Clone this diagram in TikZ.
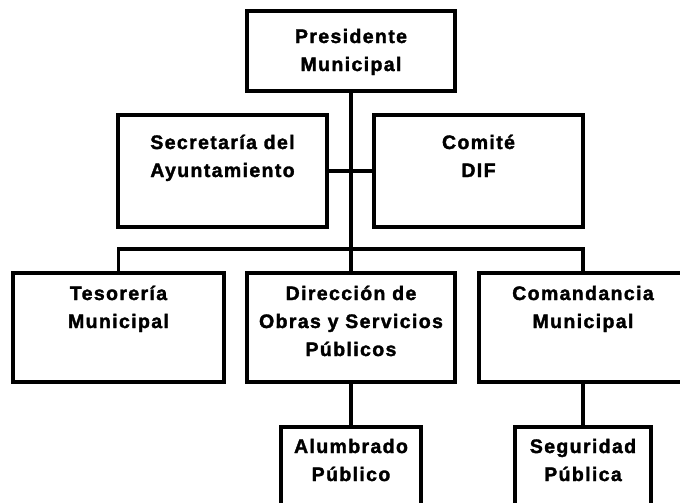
\documentclass[tikz,border=0pt]{standalone}
\usepackage{fontspec}
\newfontfamily\orgfont{Liberation Sans}[LetterSpace=7, BoldFeatures={FakeBold=1.8}]

\begin{document}
\begin{tikzpicture}[x=1pt, y=-1pt, line width=3.4pt]
    \tikzstyle{unit}=[draw, rectangle, inner sep=0pt, minimum width=208pt, minimum height=109pt]
    \tikzstyle{caption}=[anchor=base, inner sep=0pt, align=center, font=\orgfont\bfseries\fontsize{19.5}{28}\selectfont]

    \useasboundingbox (0,0) rectangle (680,503);
    \clip (0,0) rectangle (680,503);

    \node[unit, minimum height=80pt] (P-1) at (351, 51) {};
    \node[unit, minimum width=209pt, minimum height=112pt] (S-1) at (222.5, 171) {};
    \node[unit, minimum width=209pt, minimum height=112pt] (S-2) at (478.5, 171) {};

    \node[unit, minimum width=211pt] (D-1) at (118.5, 327.5) {};
    \node[unit] (D-2) at (351, 327.5) {};
    \node[unit] (D-3) at (583, 327.5) {};

    \node[unit, minimum width=140pt, minimum height=112pt] (U-1) at (351, 483) {};
    \node[unit, minimum width=136pt, minimum height=112pt] (U-2) at (583, 483) {};

    \coordinate (bus) at (351, 249);

    \draw (P-1) -- (D-2);
    \draw (S-1) -- (S-2);
    \draw (D-1.north) |- (bus) -| (D-3.north);
    \foreach \source/\dest in {D-2/U-1, D-3/U-2}
        \path (\source) edge (\dest);

    % Texts of the units (base = last line)
    \node[caption] (P-1-t) at (351, 71) {Presidente\\Municipal};
    \node[caption] (S-1-t) at (222.5, 177) {Secretaría del\\Ayuntamiento};
    \node[caption] (S-2-t) at (478.5, 177) {Comité\\DIF};
    \node[caption] (D-1-t) at (118.5, 328) {Tesorería\\Municipal};
    \node[caption] (D-2-t) at (351, 356) {Dirección de\\Obras y Servicios\\Públicos};
    \node[caption] (D-3-t) at (583, 328) {Comandancia\\Municipal};
    \node[caption] (U-1-t) at (351, 481) {Alumbrado\\Público};
    \node[caption] (U-2-t) at (583, 481) {Seguridad\\Pública};

\end{tikzpicture}
\end{document}
